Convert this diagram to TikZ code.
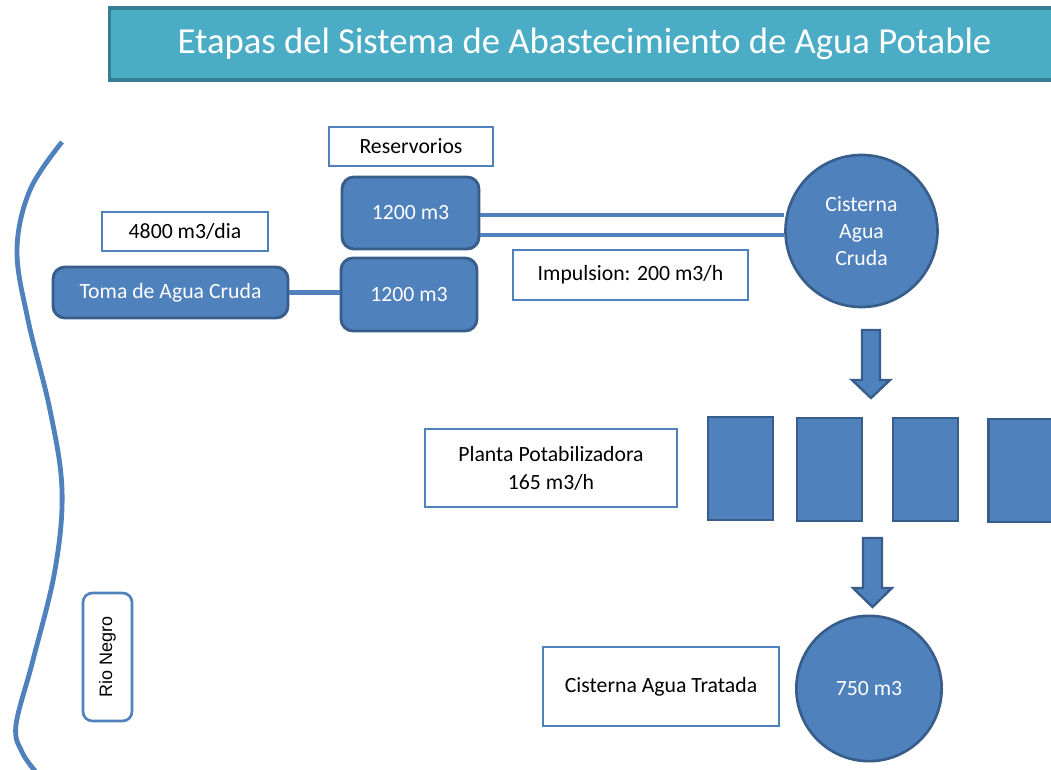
\documentclass[tikz,border=0pt]{standalone}
\usepackage{fontspec}
\setmainfont{Carlito}
\newfontfamily\arialf{Liberation Sans}
\definecolor{bfill}{HTML}{4F81BD}
\definecolor{bdraw}{HTML}{385D8A}
\definecolor{tfill}{HTML}{4BACC6}
\definecolor{tdraw}{HTML}{357D91}
\definecolor{lbox}{HTML}{4F81BD}
\begin{document}
\begin{tikzpicture}[x=0.75pt,y=-0.75pt,
  tank/.style={draw=bdraw, fill=bfill, line width=2.2pt, rounded corners=9pt, text=white, font=\fontsize{16.3}{20}\selectfont, inner sep=0pt},
  label box/.style={draw=lbox, fill=white, line width=2pt, text=black, font=\fontsize{16.3}{21}\selectfont, inner sep=0pt, align=center},
  cist/.style={circle, draw=bdraw, fill=bfill, line width=2pt, text=white, font=\fontsize{16.3}{20.25}\selectfont, inner sep=0pt, align=center},
  stage/.style={draw=bdraw, fill=bfill, line width=2.2pt, minimum width=48.75pt, minimum height=77.25pt, inner sep=0pt},
  blockarrow/.style={draw=bdraw, fill=bfill, line width=1.8pt, line join=miter},
  pipe/.style={draw=lbox, line width=3.2pt},
  river/.style={draw=lbox, line width=3.6pt, line cap=butt}
]
\useasboundingbox (0,0) rectangle (1051,770);

% title
\node[draw=tdraw, fill=tfill, line width=2.4pt, minimum width=713pt, minimum height=54pt, inner sep=0pt, text=white, font=\fontsize{27.5}{32}\selectfont] (title) at (584.5,44) {Etapas del Sistema de Abastecimiento de Agua Potable};

% river
\draw[river] plot[smooth, tension=0.6] coordinates {(62,142) (30,190) (17,250) (28,320) (50,410) (62,490) (55,570) (33,660) (16,725) (22,752) (36,772)};

% labels
\node[label box, minimum width=123pt, minimum height=29.25pt] (res) at (411,146.5) {Reservorios};
\node[label box, minimum width=124.5pt, minimum height=29.25pt] (d4800) at (185,231.5) {4800 m3/dia};
\node[label box, minimum width=176.25pt, minimum height=37.5pt] (imp) at (630.5,275) {Impulsion: 200 m3/h};
\node[label box, minimum width=189pt, minimum height=58.5pt] (planta) at (551,468) {Planta Potabilizadora\\165 m3/h};
\node[label box, minimum width=177pt, minimum height=59.25pt] (cat) at (661,686.5) {Cisterna Agua Tratada};
\node[label box, rounded corners=7pt, minimum width=36.75pt, minimum height=96pt] (rio) at (107.5,657) {};
\node[rotate=90, font=\arialf\fontsize{13.5}{16}\selectfont, text=black] (riot) at (rio.center) {Rio Negro};

% tanks
\node[tank, minimum width=102.75pt, minimum height=54pt] (t1) at (410.5,213) {1200 m3};
\node[tank, minimum width=102pt, minimum height=54.75pt] (t2) at (409,294.5) {1200 m3};
\node[tank, minimum width=176.25pt, minimum height=38.25pt] (toma) at (170.5,292.5) {Toma de Agua Cruda};

% cisterns
\node[cist, minimum size=114pt] (c1) at (861.5,231) {Cisterna\\Agua\\Cruda};
\node[cist, minimum size=109pt] (c2) at (869,688.5) {750 m3};

% connectors
\draw[pipe] (toma.east) -- (toma.east -| t2.west);
\draw[pipe, line width=2.6pt] ([yshift=-1.5pt]t1.east) -- ([yshift=12pt]c1.west);
\draw[pipe, line width=2.6pt] ([yshift=-16.5pt]t1.east) -- ([yshift=-3pt]c1.west);

% treatment stages
\node[stage] (s1) at (740.5,468.5) {};
\node[stage] (s2) at (829.5,469.5) {};
\node[stage] (s3) at (925.5,469.5) {};
\node[stage, minimum width=52pt] (s4) at (1023,470.5) {};

% block arrows
\draw[blockarrow] (862,330) -- (880,330) -- (880,380) -- (890,380) -- (871,398) -- (852,380) -- (862,380) -- cycle;
\draw[blockarrow] (863,538) -- (882,538) -- (882,588) -- (892,588) -- (872.5,607) -- (853,588) -- (863,588) -- cycle;
\end{tikzpicture}
\end{document}
